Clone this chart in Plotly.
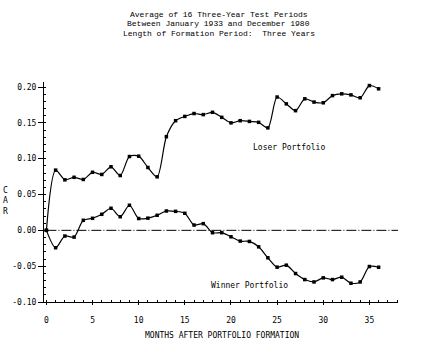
import plotly.graph_objects as go

months = list(range(0, 37))
loser_car = [0.000, 0.084, 0.0705, 0.074, 0.071, 0.081, 0.078, 0.0887, 0.0765, 0.103,
             0.1035, 0.0877, 0.0747, 0.1307, 0.153, 0.159, 0.163, 0.1615, 0.1647, 0.1577,
             0.150, 0.153, 0.152, 0.1507, 0.143, 0.186, 0.1765, 0.167, 0.1835, 0.179,
             0.178, 0.188, 0.1905, 0.189, 0.185, 0.202, 0.1975]
winner_car = [0.000, -0.0243, -0.008, -0.0094, 0.014, 0.0168, 0.0224, 0.0308, 0.019, 0.035,
              0.0165, 0.017, 0.021, 0.027, 0.0265, 0.0238, 0.0074, 0.0093, -0.0033, -0.0033,
              -0.009, -0.015, -0.0155, -0.023, -0.0383, -0.0514, -0.0486, -0.0603, -0.0687, -0.072,
              -0.0663, -0.0687, -0.0654, -0.0738, -0.072, -0.0505, -0.0515]
zero_x = [0, 38.1]
zero_y = [0, 0]
x_ticks = [0, 5, 10, 15, 20, 25, 30, 35]
y_ticks = [-0.10, -0.05, 0.00, 0.05, 0.10, 0.15, 0.20]
y_tick_text = ["-0.10", "-0.05", "0.00", "0.05", "0.10", "0.15", "0.20"]
title_lines = ["Average of 16 Three-Year Test Periods",
               "Between January 1933 and December 1980",
               "Length of Formation Period:  Three Years"]

mono = "DejaVu Sans Mono"
serif_mono = "Liberation Mono"

fig = go.Figure()
fig.add_trace(go.Scatter(x=zero_x, y=zero_y, mode="lines",
                         line=dict(color="black", width=1, dash="10px,2px,1px,2px"),
                         hoverinfo="skip", showlegend=False))
for ys in (loser_car, winner_car):
    fig.add_trace(go.Scatter(x=months, y=ys, mode="lines+markers",
                             line=dict(color="black", width=1.2, shape="spline", smoothing=0.8),
                             marker=dict(symbol="square", size=3.5, color="black"),
                             showlegend=False))

fig.update_layout(
    width=442, height=342,
    margin=dict(l=44, r=44, t=82, b=40),
    paper_bgcolor="white", plot_bgcolor="white",
    font=dict(family=mono, size=8, color="black"),
    xaxis=dict(range=[-0.26, 38.1], tickvals=x_ticks, showgrid=False, zeroline=False,
               showline=True, linecolor="black", linewidth=1,
               ticks="outside", ticklen=2, tickcolor="black",
               minor=dict(dtick=1, ticks="inside", ticklen=2, tickcolor="black"),
               ticklabelstandoff=8, tickfont=dict(family=mono, size=8)),
    yaxis=dict(range=[-0.10, 0.207], tickvals=y_ticks, ticktext=y_tick_text,
               showgrid=False, zeroline=False,
               showline=True, linecolor="black", linewidth=1,
               ticks="outside", ticklen=5, tickcolor="black",
               minor=dict(dtick=0.01, ticks="inside", ticklen=2, tickcolor="black"),
               tickfont=dict(family=mono, size=8)),
)

title_y = [1.309, 1.267, 1.2214]
for txt, yy in zip(title_lines, title_y):
    fig.add_annotation(text=txt, xref="paper", yref="paper", x=0.494, y=yy,
                       showarrow=False, xanchor="center", yanchor="middle",
                       font=dict(family=serif_mono, size=8, color="black"))

fig.add_annotation(text="Loser Portfolio", x=26.3, y=0.1157, showarrow=False,
                   font=dict(family=mono, size=8))
fig.add_annotation(text="Winner Portfolio", x=22.05, y=-0.077, showarrow=False,
                   font=dict(family=mono, size=8))
fig.add_annotation(text="MONTHS AFTER PORTFOLIO FORMATION", xref="paper", yref="paper",
                   x=(221.7 - 44) / 354, y=-0.153, showarrow=False,
                   xanchor="center", yanchor="middle", font=dict(family=mono, size=8))
fig.add_annotation(text="C<br>A<br>R", xref="paper", yref="paper",
                   x=(5 - 44) / 354, y=(302 - 201) / 220, showarrow=False,
                   xanchor="center", yanchor="middle", font=dict(family=mono, size=8))

fig.write_html("out.html")
